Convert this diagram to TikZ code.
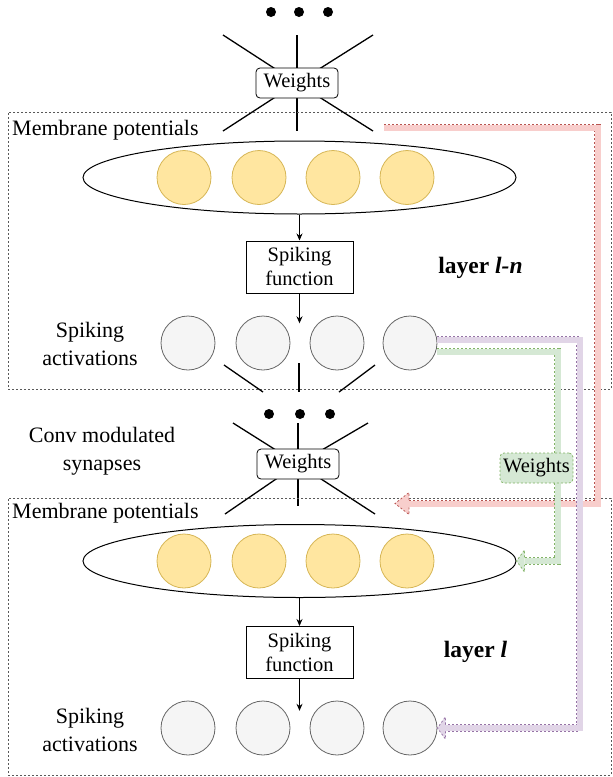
\documentclass[tikz,border=0pt]{standalone}
\usepackage{fontspec}
\setmainfont{Liberation Serif}
\usetikzlibrary{positioning}
\usetikzlibrary{shapes.geometric}
\usetikzlibrary{arrows.meta}
\usetikzlibrary{backgrounds}

\definecolor{potfill}{RGB}{255,230,160}
\definecolor{potline}{RGB}{214,182,86}
\definecolor{spkfill}{RGB}{245,245,245}
\definecolor{spkline}{RGB}{102,102,102}
\definecolor{redfill}{RGB}{248,206,204}
\definecolor{redline}{RGB}{184,84,80}
\definecolor{grnfill}{RGB}{213,232,212}
\definecolor{grnline}{RGB}{130,179,102}
\definecolor{purfill}{RGB}{225,213,231}
\definecolor{purline}{RGB}{150,115,166}

\begin{document}
\begin{tikzpicture}[x=1pt,y=-1pt,node distance=26pt,line width=0.8pt,
  >={Stealth[length=7pt,width=6pt]},
  lbl/.style={font=\fontsize{22}{28}\selectfont,align=center},
  lyr/.style={font=\fontsize{23.5}{28}\selectfont\bfseries},
  txt/.style={font=\fontsize{20.5}{24}\selectfont,align=center},
  wbox/.style={txt,draw,fill=white,rounded corners=4pt,minimum width=82pt,minimum height=30pt,inner sep=0pt},
  sfbox/.style={txt,draw,minimum width=107pt,minimum height=52pt,inner sep=0pt},
  pot/.style={circle,draw=potline,fill=potfill,minimum size=54pt,inner sep=0pt},
  spk/.style={circle,draw=spkline,fill=spkfill,minimum size=54pt,inner sep=0pt},
  memb/.style={ellipse,draw,line width=1pt,minimum width=433pt,minimum height=73pt,inner sep=0pt},
  layerbox/.style={draw=gray!70!black,dash pattern=on 2pt off 2pt,line width=0.6pt,minimum width=603pt,minimum height=277pt,inner sep=0pt},
  fan/.style={line width=1.3pt},
  dot/.style={circle,fill,minimum size=10pt,inner sep=0pt},
  band/.style={draw=#1fill,line width=6pt,preaction={draw=#1line,line width=7.5pt,dash pattern=on 2pt off 2pt}},
  head/.style={fill=#1fill,draw=#1line,line width=0.75pt,dash pattern=on 2pt off 2pt}]
  \useasboundingbox (0,0) rectangle (613,777);

  % layer l-n
  \node[layerbox](lyrN) at (309.5,250.5) {};
  \foreach \x [count=\i] in {271,299,328} \node[dot](topdot\i) at (\x,12) {};
  \node[wbox](w1) at (297,83) {Weights};
  \node[lbl,anchor=west](mp1) at (8.5,130) {Membrane potentials};
  \node[memb](e1) at (299.5,177.5) {};
  \foreach \x [count=\i] in {184,259,333,407} \node[pot](p\i) at (\x,177.5) {};
  \node[sfbox,below= of e1](sf1) {Spiking\\function};
  \coordinate[below=30pt of sf1](s1);
  \foreach \x [count=\i] in {188,263,337,410} \node[spk](a\i) at (\x,343) {};
  \node[lbl](sa1) at (90,344) {Spiking\\activations};
  \node[lyr](ln) at (480.5,268) {layer \textit{l-n}};
  \draw[->] (e1)--(sf1);
  \draw[->] (sf1)--(s1);

  % synapses
  \draw[fan] (224,365)--(263,392);
  \draw[fan] (299,363)--(299,392);
  \draw[fan] (375,365)--(339,392);
  \foreach \x [count=\i] in {269,300,330} \node[dot](middot\i) at (\x,414) {};
  \node[wbox](w2) at (298,464) {Weights};
  \node[lbl](conv) at (102,451) {Conv modulated\\synapses};

  % layer l
  \node[layerbox](lyrL) at (309.5,636.5) {};
  \node[lbl,anchor=west](mp2) at (8.5,513) {Membrane potentials};
  \node[memb](e2) at (299.5,561) {};
  \foreach \x [count=\i] in {184,259,333,407} \node[pot](q\i) at (\x,561) {};
  \node[sfbox,below=28pt of e2](sf2) {Spiking\\function};
  \coordinate[below=32pt of sf2](s2);
  \foreach \x [count=\i] in {188,263,337,410} \node[spk](b\i) at (\x,728) {};
  \node[lbl](sa2) at (90,730) {Spiking\\activations};
  \node[lyr](ll) at (475.5,652) {layer \textit{l}};
  \draw[->] (e2)--(sf2);
  \draw[->] (sf2)--(s2);

  \begin{scope}[on background layer]
    \foreach \dx/\dy in {-74/-48,0/-48,76/-48,-74/48,0/48,76/48}
      \draw[fan] (w1.center)--+(\dx,\dy);
    \foreach \dx/\dy in {-65/-41,0/-41,70/-41,-73/50,0/42,77/50}
      \draw[fan] (w2.center)--+(\dx,\dy);
  \end{scope}

  % skip connections
  \coordinate (rin) at (384,127.5);
  \coordinate (rx) at (597.5,0);
  \coordinate (rtip) at (395,503.5);
  \coordinate (rhead) at (409,503.5);
  \draw[band=red] (rin) -| (rx |- rtip)--(rhead);
  \path[head=red] ([yshift=3.75pt]rhead)--([yshift=11pt]rhead)--(rtip)--([yshift=-11pt]rhead)--([yshift=-3.75pt]rhead);

  \coordinate (px) at (579.5,0);
  \coordinate[right=8pt of b4.east](phead);
  \draw[band=pur] ([yshift=3.5pt]a4.east) -| (px |- b4.east)--(phead);
  \path[head=pur] ([yshift=3.75pt]phead)--([yshift=11pt]phead)--(b4.east)--([yshift=-11pt]phead)--([yshift=-3.75pt]phead);

  \coordinate (gx) at (557.5,0);
  \coordinate[right=8pt of e2.east](ghead);
  \draw[band=grn] ([yshift=-8.5pt]a4.east) -| (gx |- e2.east)--(ghead);
  \path[head=grn] ([yshift=3.75pt]ghead)--([yshift=11pt]ghead)--(e2.east)--([yshift=-11pt]ghead)--([yshift=-3.75pt]ghead);
  \node[txt,fill=grnfill,draw=grnline,dash pattern=on 2pt off 2pt,line width=0.75pt,rounded corners=4pt,minimum width=73pt,minimum height=30pt,inner sep=0pt](wg) at (536.5,468) {Weights};
\end{tikzpicture}
\end{document}
